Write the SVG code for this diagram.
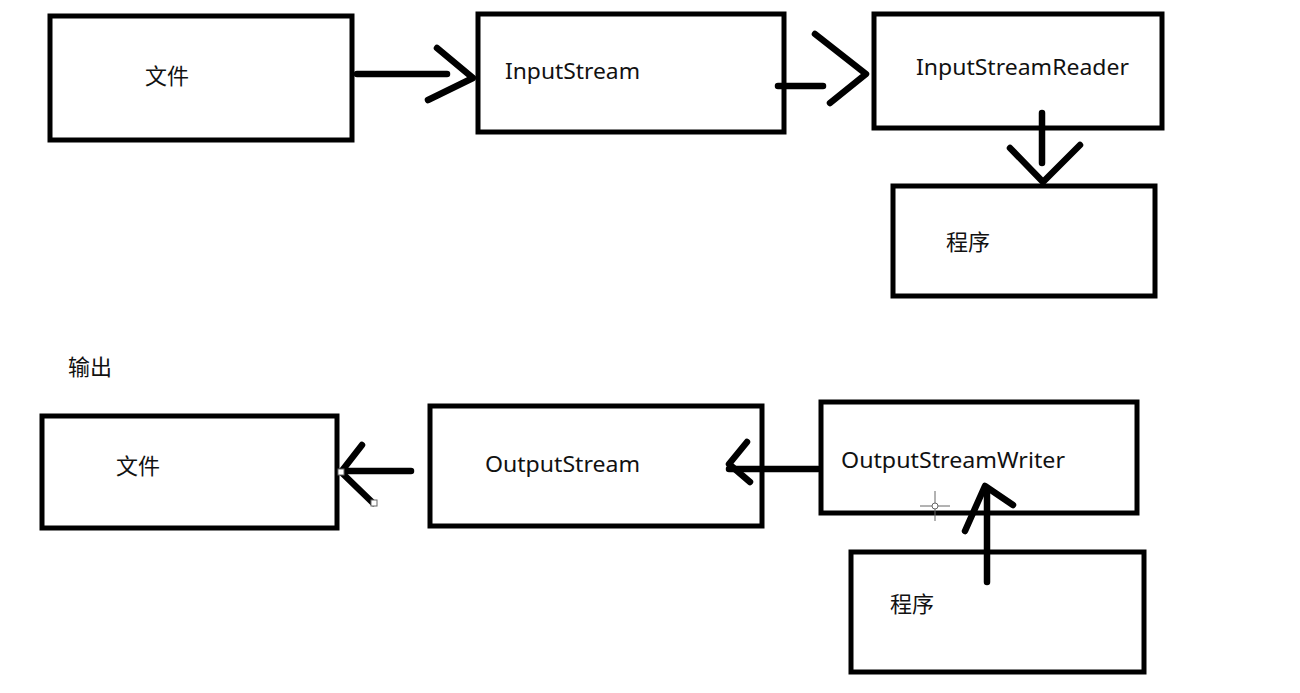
<svg xmlns="http://www.w3.org/2000/svg" width="1300" height="693" viewBox="0 0 1300 693">
<style>
.box{fill:#fff;stroke:#000;stroke-width:5}
.ln{fill:none;stroke:#000;stroke-width:6.5;stroke-linecap:round;stroke-linejoin:round}
.t{font-family:"Noto Sans","Noto Sans CJK SC",sans-serif;font-size:21px;fill:#111}
.c{font-family:"Noto Sans CJK SC","Noto Sans",sans-serif;font-size:22px;fill:#111}
.h{fill:#fff;stroke:#666;stroke-width:1}
</style>
<rect width="1300" height="693" fill="#fff"/>
<g id="n-file-in"><rect class="box" x="50" y="16" width="302" height="124"/><text class="c" x="145" y="84">文件</text></g>
<g id="n-inputstream"><rect class="box" x="478" y="14" width="306" height="118"/><text class="t" x="505" y="79" textLength="135" lengthAdjust="spacingAndGlyphs">InputStream</text></g>
<g id="n-isr"><rect class="box" x="874" y="14" width="288" height="114"/><text class="t" x="916" y="75" textLength="213" lengthAdjust="spacingAndGlyphs">InputStreamReader</text></g>
<g id="n-prog-in"><rect class="box" x="893" y="186" width="262" height="110"/><text class="c" x="946" y="250">程序</text></g>
<g id="n-label-out"><text class="c" x="68" y="375">输出</text></g>
<g id="n-file-out"><rect class="box" x="42" y="416" width="295" height="112"/><text class="c" x="116" y="474">文件</text></g>
<g id="n-outputstream"><rect class="box" x="430" y="406" width="332" height="120"/><text class="t" x="485" y="472" textLength="155" lengthAdjust="spacingAndGlyphs">OutputStream</text></g>
<g id="n-osw"><rect class="box" x="821" y="402" width="316" height="111"/><text class="t" x="841" y="468" textLength="224" lengthAdjust="spacingAndGlyphs">OutputStreamWriter</text></g>
<g id="n-prog-out"><rect class="box" x="851" y="552" width="293" height="120"/><text class="c" x="890" y="612">程序</text></g>
<g id="connectors">
<path class="ln" d="M357 74H447"/><path class="ln" d="M437 48L473 78L428 100"/>
<path class="ln" d="M778 86H823"/><path class="ln" d="M815 34L866 74L830 103"/>
<path class="ln" d="M1042 113V163"/><path class="ln" d="M1010 148L1043 182L1080 145"/>
<path class="ln" d="M411 471H342"/><path class="ln" d="M362 445L341 472L373 503"/>
<path class="ln" d="M818 469H729"/><path class="ln" d="M747 442L729 464L750 482"/>
<path class="ln" d="M987 582V490"/><path class="ln" d="M965 531L985 486L1013 505"/>
<rect class="h" x="338" y="469" width="6" height="6"/><rect class="h" x="371" y="500" width="6" height="6"/>
</g>
<g id="cursor" stroke="#666" stroke-width="1" fill="none"><path d="M920 506H950M935 491V521"/><circle cx="935" cy="506" r="3" fill="#fff"/></g>
</svg>
